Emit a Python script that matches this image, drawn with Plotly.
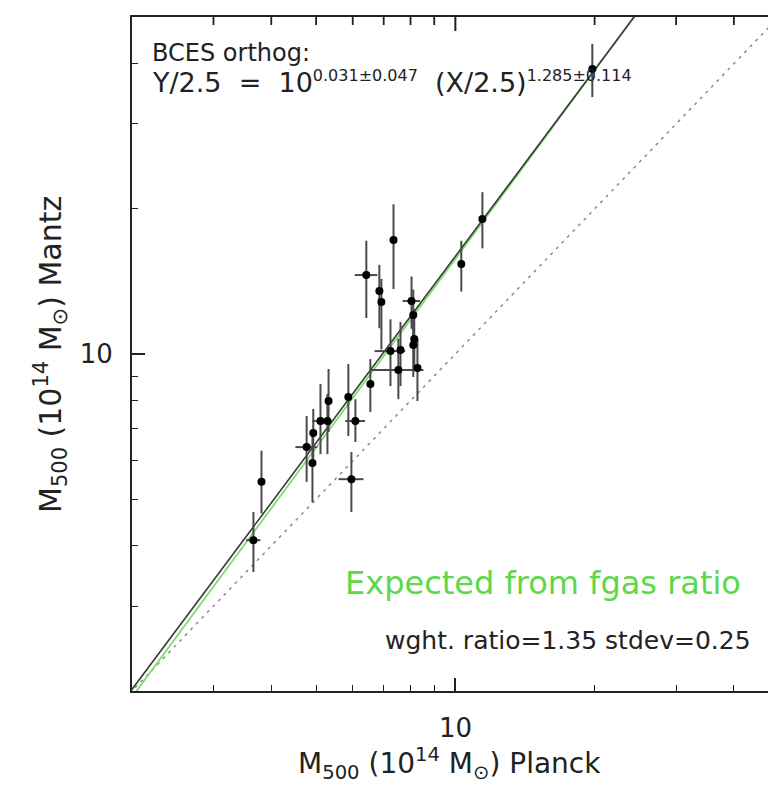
import numpy as np
import plotly.graph_objects as go

# ---- data (M500 in 1e14 Msun) ----
planck_x = [19.77, 11.44, 10.30, 7.35, 6.42, 6.85, 6.92, 8.04, 8.11, 8.15, 8.11, 7.24, 7.61,
            7.53, 8.28, 6.55, 5.87, 5.32, 6.08, 5.29, 5.11, 4.93, 4.77, 4.91, 5.96, 3.81, 3.66]
mantz_y = [39.0, 19.06, 15.37, 17.24, 14.58, 13.51, 12.82, 12.88, 12.05, 10.74, 10.44, 10.14, 10.19,
           9.26, 9.35, 8.66, 8.14, 7.99, 7.26, 7.26, 7.26, 6.86, 6.41, 5.94, 5.50, 5.43, 4.11]
y_err_plus = [5.0, 2.6, 1.8, 3.2, 2.6, 1.8, 1.5, 1.6, 1.55, 1.66, 1.46, 1.66, 1.46,
              1.5, 1.4, 1.1, 1.39, 1.32, 0.8, 1.0, 1.4, 0.83, 1.03, 0.95, 0.76, 0.87, 0.59]
y_err_minus = [4.9, 2.5, 1.9, 3.6, 2.7, 2.2, 2.6, 1.6, 1.56, 1.43, 1.48, 1.56, 1.61,
               1.2, 1.36, 1.08, 1.38, 1.1, 0.69, 1.06, 1.06, 0.8, 0.98, 1.01, 0.8, 0.76, 0.58]
x_err = [0.3, 0, 0, 0, 0.36, 0, 0, 0.35, 0, 0, 0, 0.55, 0,
         1.0, 0, 0, 0, 0, 0.3, 0.15, 0.2, 0, 0.26, 0, 0.37, 0, 0.13]

# BCES orthogonal fit: Y/2.5 = 10^a (X/2.5)^b
fit_pivot = 2.5
fit_a = 0.031
fit_b = 1.285
# expected relation from fgas ratio: Y = A X^B
exp_A = 0.789
exp_B = 1.30

x_range = [2.0, 47.4]
y_range = [2.0, 50.0]

major_ticks = [10]
tick_labels = ["10"]
minor_ticks = [3, 4, 5, 6, 7, 8, 9, 20, 30, 40]

FONT = "DejaVu Sans"
INK = "#222222"
PLOT_H = 785 - 17 - 94
Y_DECADE_PX = PLOT_H / np.log10(y_range[1] / y_range[0])

xl = np.logspace(np.log10(1.5), np.log10(60), 200)
fit_y = fit_pivot * 10 ** fit_a * (xl / fit_pivot) ** fit_b
exp_y = exp_A * xl ** exp_B

fig = go.Figure()
fig.add_trace(go.Scatter(x=xl, y=xl, mode="lines",
                         line=dict(color="#8a8a8a", width=1.5, dash="3px,5px"),
                         hoverinfo="skip", showlegend=False))
fig.add_trace(go.Scatter(x=xl, y=exp_y, mode="lines",
                         line=dict(color="#7fdc6e", width=1.8),
                         hoverinfo="skip", showlegend=False))
fig.add_trace(go.Scatter(x=xl, y=fit_y, mode="lines",
                         line=dict(color="#3a3a3a", width=1.6),
                         hoverinfo="skip", showlegend=False))
fig.add_trace(go.Scatter(
    x=planck_x, y=mantz_y, mode="markers",
    marker=dict(color="black", size=8),
    error_y=dict(type="data", symmetric=False, array=y_err_plus, arrayminus=y_err_minus,
                 color="#4a4a4a", thickness=2, width=0),
    error_x=dict(type="data", array=x_err, color="#4a4a4a", thickness=2, width=0),
    showlegend=False))

# ticks on the top frame, one short line trace per tick value of the bottom axis
for vals, length_px, w in [(major_ticks, 14, 2.0), (minor_ticks, 8, 1.8)]:
    f = 10 ** (length_px / Y_DECADE_PX)
    for v in vals:
        fig.add_trace(go.Scatter(x=[v, v], y=[y_range[1], y_range[1] / f], mode="lines",
                                 line=dict(color=INK, width=w),
                                 hoverinfo="skip", showlegend=False))

tick_common = dict(
    type="log", ticks="inside", ticklen=13, tickwidth=1.5, tickcolor=INK,
    showgrid=False, zeroline=False,
    showline=True, linecolor=INK, linewidth=2,
    tickvals=major_ticks,
    minor=dict(tickvals=minor_ticks, ticks="inside", ticklen=6, tickwidth=1.2, tickcolor=INK,
               showgrid=False),
)
xr = [np.log10(x_range[0]), np.log10(x_range[1])]
yr = [np.log10(y_range[0]), np.log10(y_range[1])]

fig.update_layout(
    width=768, height=785,
    margin=dict(l=132, r=0, t=17, b=94),
    paper_bgcolor="white", plot_bgcolor="white",
    xaxis=dict(range=xr, mirror=True, ticktext=["" for _ in major_ticks],
               tickfont=dict(family=FONT, size=26, color=INK), **tick_common),
    yaxis=dict(range=yr, mirror=False, ticklabelstandoff=12, ticktext=tick_labels,
               tickfont=dict(family=FONT, size=26, color=INK), **tick_common),
    showlegend=False,
)

ann_font = dict(family=FONT, size=24, color=INK)
sp = "\u00a0"
sup1 = '<sup><span style="font-size:16px">0.031±0.047</span></sup>'
sup2 = '<sup><span style="font-size:16px">1.285±0.114</span></sup>'
annotations = [
    dict(text="BCES orthog:", x=0.028, y=0.947, xanchor="left", yanchor="middle",
         font=ann_font),
    dict(text=f"Y/2.5{sp}{sp}={sp}{sp}10{sup1}{sp}{sp}(X/2.5){sup2}",
         x=0.028, y=0.903, xanchor="left", yanchor="middle",
         font=dict(family=FONT, size=27, color=INK)),
    dict(text="Expected from fgas ratio", x=0.9607, y=0.1602, xanchor="right", yanchor="middle",
         font=dict(family=FONT, size=32, color="#5cd84a")),
    dict(text="wght. ratio=1.35 stdev=0.25", x=0.977, y=0.0742, xanchor="right", yanchor="middle",
         font=dict(family=FONT, size=25, color=INK)),
    dict(text="M<sub>500</sub> (10<sup>14</sup> M<sub>⊙</sub>) Planck", x=0.4985, y=-0.108,
         xanchor="center", yanchor="middle", font=dict(family=FONT, size=28, color=INK)),
    dict(text="M<sub>500</sub> (10<sup>14</sup> M<sub>⊙</sub>) Mantz", x=-0.129, y=0.50,
         xanchor="center", yanchor="middle", textangle=-90,
         font=dict(family=FONT, size=30, color=INK)),
]
for a in annotations:
    a.update(xref="paper", yref="paper", showarrow=False)
# x tick labels placed at their data positions (annotation x on a log axis is log10)
for v, t in zip(major_ticks, tick_labels):
    annotations.append(dict(text=t, x=np.log10(v), xref="x", y=-0.055, yref="paper",
                            xanchor="center", yanchor="middle", showarrow=False,
                            font=dict(family=FONT, size=26, color=INK)))
fig.update_layout(annotations=annotations)

fig.write_html("out.html")
